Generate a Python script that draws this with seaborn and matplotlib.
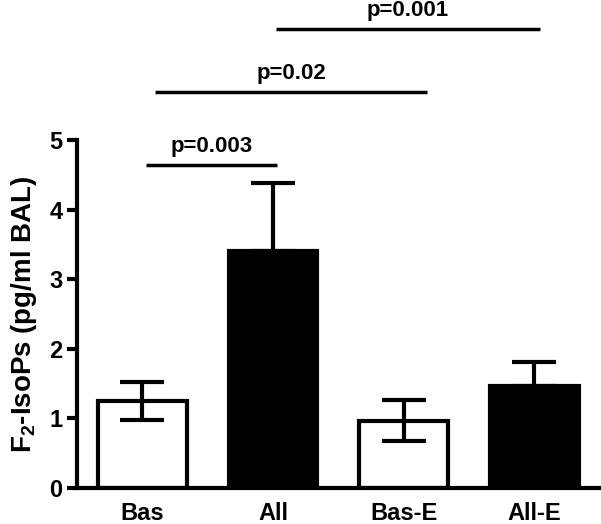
import matplotlib
matplotlib.use("Agg")
import matplotlib.pyplot as plt
import seaborn as sns
import pandas as pd

# --- data ---
groups = ["Bas", "All", "Bas-E", "All-E"]
means = [1.25, 3.40, 0.97, 1.47]
errs = [0.27, 0.99, 0.30, 0.34]
fills = ["white", "black", "white", "black"]

# significance brackets: (x start, x end, line height, label)
brk_x0 = [0.03, 0.10, 1.02]
brk_x1 = [1.03, 2.18, 3.04]
brk_y = [4.64, 5.69, 6.59]
brk_txt = ["p=0.003", "p=0.02", "p=0.001"]

sns.set_style("ticks", {"text.color": "black", "axes.labelcolor": "black",
                        "xtick.color": "black", "ytick.color": "black",
                        "axes.edgecolor": "black"})
plt.rcParams["font.family"] = ["Liberation Sans", "DejaVu Sans"]
plt.rcParams["font.weight"] = "bold"
plt.rcParams["mathtext.default"] = "regular"

df = pd.DataFrame({"group": groups, "value": means})

fig = plt.figure(figsize=(6.01, 5.24), dpi=100)
ax = fig.add_axes([0.128, 0.0687, 0.87, 0.664])

sns.barplot(data=df, x="group", y="value", hue="group", palette=fills,
            edgecolor="black", linewidth=3, width=0.68, errorbar=None,
            legend=False, ax=ax)

# white bars: error both ways, black bars: only upward
for i, (m, e, c) in enumerate(zip(means, errs, fills)):
    lo = e if c == "white" else 0
    ax.errorbar(i, m, yerr=[[lo], [e]], color="black", elinewidth=3,
                capsize=16, capthick=3, fmt="none", zorder=5)

for x0, x1, y, t in zip(brk_x0, brk_x1, brk_y, brk_txt):
    ax.plot([x0, x1], [y, y], color="black", lw=2.5, clip_on=False,
            solid_capstyle="butt")
    ax.text((x0 + x1) / 2, y + 0.12, t, ha="center", va="bottom",
            fontsize=16, fontweight="bold", color="black")

ax.set_xlim(-0.5, 3.5)
ax.set_ylim(0, 5)
ax.set_yticks([0, 1, 2, 3, 4, 5])
ax.set_xlabel("")
ax.set_ylabel("F$_2$-IsoPs (pg/ml BAL)", fontsize=20, fontweight="bold",
              labelpad=7)
ax.tick_params(axis="y", length=7, width=3, labelsize=17, direction="out")
ax.tick_params(axis="x", length=0, labelsize=17, pad=10)
for lab in ax.get_xticklabels() + ax.get_yticklabels():
    lab.set_fontweight("bold")

sns.despine(ax=ax)
ax.spines["left"].set_linewidth(3)
ax.spines["bottom"].set_linewidth(3)

fig.savefig("out.png", dpi=100)
